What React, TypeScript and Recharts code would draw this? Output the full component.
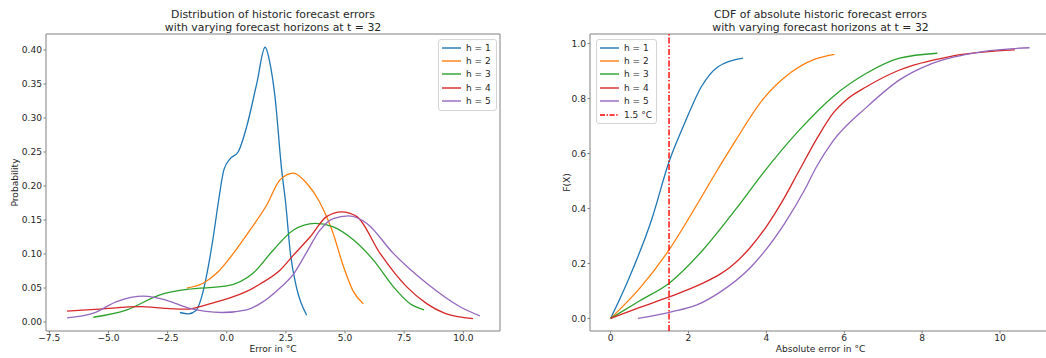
import React from 'react';
import { LineChart, Line, XAxis, YAxis, ReferenceArea, ReferenceLine } from 'recharts';

// series colours (matplotlib tab10)
const colors = ['#1f77b4', '#ff7f0e', '#2ca02c', '#d62728', '#9467bd'];
const seriesNames = ['h = 1', 'h = 2', 'h = 3', 'h = 4', 'h = 5'];
const thresholdLabel = '1.5 °C';
const threshold = 1.5;

// left panel: distribution of errors
const pdfH1X = [-1.98, -1.62, -1.3, -1.06, -0.81, -0.57, -0.36, -0.12, 0.14, 0.48, 0.84, 1.27, 1.62, 1.83, 2.04, 2.32, 2.49, 2.69, 2.94, 3.38];
const pdfH1Y = [0.014, 0.012, 0.017, 0.037, 0.076, 0.125, 0.175, 0.224, 0.24, 0.25, 0.287, 0.351, 0.404, 0.38, 0.331, 0.224, 0.175, 0.101, 0.052, 0.01];
const pdfH2X = [-1.69, -1.0, -0.42, 0.28, 0.98, 1.69, 2.25, 2.81, 3.38, 3.9, 4.47, 4.93, 5.35, 5.77];
const pdfH2Y = [0.05, 0.057, 0.072, 0.101, 0.135, 0.172, 0.209, 0.219, 0.204, 0.178, 0.133, 0.082, 0.045, 0.027];
const pdfH3X = [-5.64, -4.22, -2.82, -1.69, 0.0, 1.12, 1.97, 2.81, 3.73, 4.5, 5.35, 6.2, 7.04, 7.75, 8.34];
const pdfH3Y = [0.007, 0.018, 0.04, 0.048, 0.053, 0.072, 0.106, 0.135, 0.145, 0.14, 0.121, 0.091, 0.052, 0.027, 0.018];
const pdfH4X = [-6.75, -5.36, -3.67, -2.54, -1.69, -0.8, 0.0, 0.84, 1.41, 2.25, 2.81, 3.52, 4.22, 4.86, 5.5, 6.48, 7.6, 8.45, 9.2, 10.41];
const pdfH4Y = [0.016, 0.019, 0.0225, 0.02, 0.019, 0.026, 0.034, 0.045, 0.056, 0.076, 0.098, 0.125, 0.155, 0.162, 0.155, 0.101, 0.052, 0.027, 0.013, 0.005];
const pdfH5X = [-6.75, -5.64, -4.65, -3.52, -2.54, -1.55, -0.2, 0.84, 1.41, 2.25, 2.81, 3.35, 3.94, 4.5, 5.15, 5.92, 7.04, 8.45, 9.86, 10.7];
const pdfH5Y = [0.006, 0.013, 0.03, 0.038, 0.032, 0.02, 0.014, 0.018, 0.027, 0.05, 0.07, 0.101, 0.135, 0.152, 0.156, 0.145, 0.101, 0.057, 0.0225, 0.009];

// right panel: CDF of absolute errors
const cdfH1X = [0, 0.45, 1.05, 1.5, 1.9, 2.33, 2.76, 3.4];
const cdfH1Y = [0, 0.139, 0.358, 0.57, 0.71, 0.843, 0.916, 0.947];
const cdfH2X = [0, 0.75, 1.5, 2.2, 2.7, 3.2, 3.9, 4.6, 5.2, 5.75];
const cdfH2Y = [0, 0.11, 0.249, 0.41, 0.53, 0.645, 0.795, 0.892, 0.941, 0.961];
const cdfH3X = [0, 0.75, 1.52, 2.37, 3.23, 3.91, 4.85, 5.71, 6.57, 7.42, 8.39];
const cdfH3Y = [0, 0.064, 0.13, 0.249, 0.4, 0.528, 0.686, 0.807, 0.892, 0.947, 0.965];
const cdfH4X = [0, 0.75, 1.52, 2.37, 2.8, 3.06, 3.3, 3.57, 4.0, 4.43, 4.85, 5.3, 5.71, 6.05, 6.57, 7.42, 8.71, 10.38];
const cdfH4Y = [0, 0.04, 0.079, 0.128, 0.16, 0.185, 0.215, 0.255, 0.334, 0.431, 0.54, 0.655, 0.746, 0.795, 0.843, 0.904, 0.953, 0.977];
const cdfH5X = [0.7, 1.56, 2.2, 2.76, 3.61, 4.47, 4.98, 5.28, 5.71, 6.57, 7.42, 8.28, 9.56, 10.76];
const cdfH5Y = [0, 0.024, 0.048, 0.091, 0.188, 0.346, 0.467, 0.55, 0.645, 0.768, 0.868, 0.929, 0.971, 0.985];

const pdfXTicks = [-7.5, -5, -2.5, 0, 2.5, 5, 7.5, 10];
const pdfYTicks = [0, 0.05, 0.1, 0.15, 0.2, 0.25, 0.3, 0.35, 0.4];
const cdfXTicks = [0, 2, 4, 6, 8, 10];
const cdfYTicks = [0, 0.2, 0.4, 0.6, 0.8, 1.0];

const zip = (xs: number[], ys: number[]) => xs.map((x, i) => ({ x, y: ys[i] }));

const pdfSeries = [zip(pdfH1X, pdfH1Y), zip(pdfH2X, pdfH2Y), zip(pdfH3X, pdfH3Y), zip(pdfH4X, pdfH4Y), zip(pdfH5X, pdfH5Y)];
const cdfSeries = [zip(cdfH1X, cdfH1Y), zip(cdfH2X, cdfH2Y), zip(cdfH3X, cdfH3Y), zip(cdfH4X, cdfH4Y), zip(cdfH5X, cdfH5Y)];

const FONT = '"DejaVu Sans", sans-serif';
const TEXT = '#262626';
const SPINE = '#808080';
const minus = (s: string) => s.replace('-', '\u2212');

const tickStyle = { fontSize: 9.1, fill: TEXT, fontFamily: FONT };
const labelStyle = { fontSize: 9.1, fill: TEXT, fontFamily: FONT };

const Legend = ({ left, top, width, withThreshold }: { left: number; top: number; width: number; withThreshold?: boolean }) => {
  const rows = seriesNames.map((n, i) => ({ name: n, color: colors[i], dash: undefined as string | undefined }));
  if (withThreshold) rows.push({ name: thresholdLabel, color: '#ff0000', dash: '5 1.6 1.4 1.6' });
  return (
    <div
      style={{
        position: 'absolute', left, top, width, padding: '1px 0 2px 0',
        border: '1px solid #d4d4d4', borderRadius: 3, background: 'rgba(255,255,255,0.85)',
        fontFamily: FONT, fontSize: 9, color: TEXT,
      }}
    >
      {rows.map((r) => (
        <div key={r.name} style={{ height: 13.4, display: 'flex', alignItems: 'center' }}>
          <svg width={27} height={6} style={{ flex: 'none' }}>
            <line x1={3} x2={22} y1={3} y2={3} stroke={r.color} strokeWidth={1.4} strokeDasharray={r.dash} />
          </svg>
          <span style={{ whiteSpace: 'nowrap' }}>{r.name}</span>
        </div>
      ))}
    </div>
  );
};

const Title = ({ left, width, lines }: { left: number; width: number; lines: string[] }) => (
  <div
    style={{
      position: 'absolute', left, top: 9, width, textAlign: 'center',
      fontFamily: FONT, fontSize: 10.9, lineHeight: '12.7px', color: TEXT, whiteSpace: 'nowrap',
    }}
  >
    {lines.map((l) => <div key={l}>{l}</div>)}
  </div>
);

const pdfX: [number, number] = [-7.64, 11.55];
const pdfY: [number, number] = [-0.0132, 0.4235];
const cdfX: [number, number] = [-0.53, 11.31];
const cdfY: [number, number] = [-0.046, 1.035];

export default function App() {
  return (
    <div style={{ position: 'fixed', left: 0, top: 0, width: 1046, height: 358, overflow: 'hidden', background: '#fff' }}>
      <Title left={46} width={454} lines={['Distribution of historic forecast errors', 'with varying forecast horizons at t = 32']} />
      <Title left={590} width={461} lines={['CDF of absolute historic forecast errors', 'with varying forecast horizons at t = 32']} />

      <div style={{ position: 'absolute', left: 0, top: 0 }}>
        <LineChart width={530} height={358} margin={{ top: 34, right: 30, bottom: 0, left: 6 }}>
          <XAxis
            type="number" dataKey="x" domain={pdfX} allowDataOverflow ticks={pdfXTicks} interval={0}
            height={27} tickSize={2.5} tickMargin={1.5} axisLine={false}
            tickLine={{ stroke: SPINE }} tick={tickStyle}
            tickFormatter={(v: number) => minus(v.toFixed(1))}
            label={{ value: 'Error in °C', position: 'insideTop', offset: 15, style: labelStyle }}
          />
          <YAxis
            type="number" dataKey="y" domain={pdfY} allowDataOverflow ticks={pdfYTicks} interval={0}
            width={40} tickSize={2.5} tickMargin={1.5} axisLine={false}
            tickLine={{ stroke: SPINE }} tick={tickStyle}
            tickFormatter={(v: number) => v.toFixed(2)}
            label={{ value: 'Probability', angle: -90, position: 'insideLeft', offset: 9, style: { ...labelStyle, textAnchor: 'middle' } }}
          />
          <ReferenceArea x1={pdfX[0]} x2={pdfX[1]} y1={pdfY[0]} y2={pdfY[1]} fill="none" stroke={SPINE} strokeWidth={1} ifOverflow="visible" />
          {pdfSeries.map((d, i) => (
            <Line key={i} data={d} dataKey="y" type="monotone" stroke={colors[i]} strokeWidth={1.3} dot={false} isAnimationActive={false} />
          ))}
        </LineChart>
      </div>

      <div style={{ position: 'absolute', left: 530, top: 0 }}>
        <LineChart width={540} height={358} margin={{ top: 34, right: 19, bottom: 0, left: 20 }}>
          <XAxis
            type="number" dataKey="x" domain={cdfX} allowDataOverflow ticks={cdfXTicks} interval={0}
            height={27} tickSize={2.5} tickMargin={1.5} axisLine={false}
            tickLine={{ stroke: SPINE }} tick={tickStyle}
            label={{ value: 'Absolute error in °C', position: 'insideTop', offset: 15, style: labelStyle }}
          />
          <YAxis
            type="number" dataKey="y" domain={cdfY} allowDataOverflow ticks={cdfYTicks} interval={0}
            width={40} tickSize={2.5} tickMargin={1.5} axisLine={false}
            tickLine={{ stroke: SPINE }} tick={tickStyle}
            tickFormatter={(v: number) => v.toFixed(1)}
            label={{ value: 'F(X)', angle: -90, position: 'insideLeft', offset: 17, style: { ...labelStyle, textAnchor: 'middle' } }}
          />
          <ReferenceArea x1={cdfX[0]} x2={cdfX[1]} y1={cdfY[0]} y2={cdfY[1]} fill="none" stroke={SPINE} strokeWidth={1} ifOverflow="visible" />
          {cdfSeries.map((d, i) => (
            <Line key={i} data={d} dataKey="y" type="monotone" stroke={colors[i]} strokeWidth={1.3} dot={false} isAnimationActive={false} />
          ))}
          <ReferenceLine x={threshold} stroke="#ff0000" strokeWidth={1.4} strokeDasharray="6 2 1.5 2" />
        </LineChart>
      </div>

      <Legend left={438} top={39} width={57} />
      <Legend left={596} top={39} width={59} withThreshold />
    </div>
  );
}
